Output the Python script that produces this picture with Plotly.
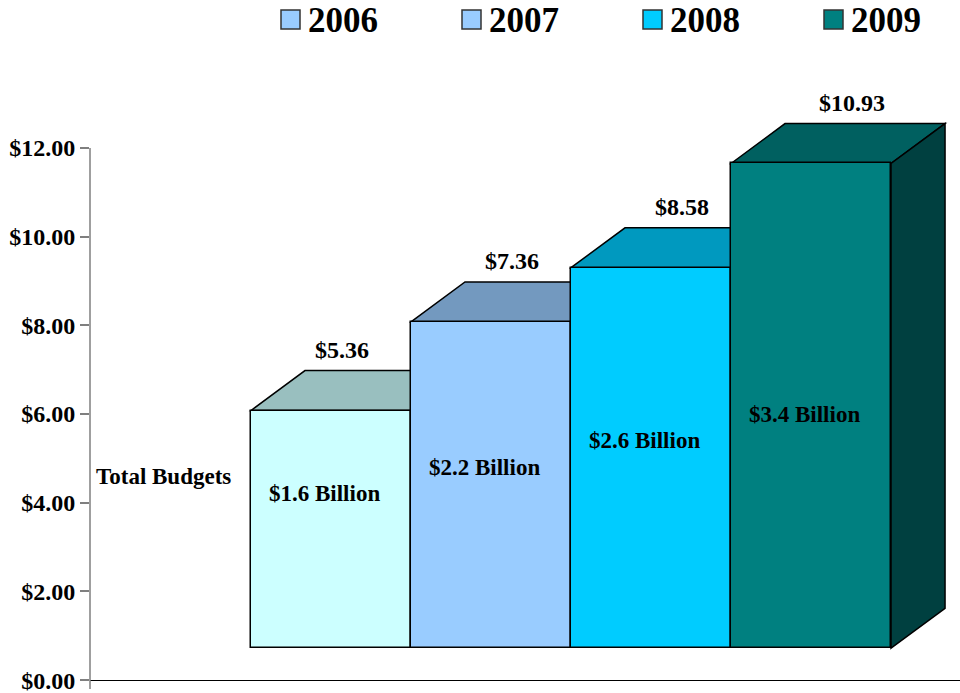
import plotly.graph_objects as go

# ---- data -------------------------------------------------------------
years = ["2006", "2007", "2008", "2009"]
total_budget = [5.36, 7.36, 8.58, 10.93]          # $ billions, value on top
inner_amount = [1.6, 2.2, 2.6, 3.4]                # $ billions, printed inside
y_ticks = [0, 2, 4, 6, 8, 10, 12]

front_colors = ["#CCFFFF", "#99CCFF", "#00CCFF", "#008080"]
top_colors = ["#99BFBF", "#7399BF", "#0099BF", "#006060"]
side_color = "#004040"
legend_colors = ["#99CCFF", "#99CCFF", "#00CCFF", "#008080"]

# ---- pseudo-3D geometry (axis units) ----------------------------------
W, H = 960, 693
ML, MR, MT, MB = 90, 0, 77, 0
X_RANGE = [-0.506, 4.931]
Y_RANGE = [-0.29, 13.6]
FLOOR = 0.72      # front faces start slightly above the zero line
DX, DY = 0.3375, 0.90   # depth offset of the back edges
BAR_W = 1.0

SERIF = "Liberation Serif, Times New Roman, serif"


def px_x(p):
    return (p - ML) / (W - ML - MR)


def px_y(p):
    return (H - MB - p) / (H - MT - MB)


fig = go.Figure()
shapes = []
annotations = []

for i, (yr, v) in enumerate(zip(years, total_budget)):
    xc = i + 1
    x0, x1 = xc - BAR_W / 2, xc + BAR_W / 2
    top = v + FLOOR

    # front face
    fig.add_trace(go.Bar(
        x=[xc], y=[v], base=[FLOOR], width=[BAR_W], name=yr,
        marker=dict(color=front_colors[i], line=dict(color="#000000", width=1.5)),
        hoverinfo="skip", showlegend=False,
    ))

    # top face
    shapes.append(dict(
        type="path", xref="x", yref="y", layer="below",
        path=f"M{x0},{top} L{x0 + DX},{top + DY} L{x1 + DX},{top + DY} L{x1},{top} Z",
        fillcolor=top_colors[i], line=dict(color="#000000", width=1.5),
    ))

    # value above the bar
    annotations.append(dict(
        x=xc + 0.07 + 0.0625 * i, y=top + DY, xref="x", yref="y",
        text=f"<b>${v:.2f}</b>", showarrow=False, yanchor="middle", yshift=21,
        font=dict(family=SERIF, size=24, color="#000000"),
    ))

    # amount printed on the front face
    annotations.append(dict(
        x=xc - 0.04, y=4.2 + 0.6 * i, xref="x", yref="y",
        text=f"<b>${inner_amount[i]:.1f} Billion</b>", showarrow=False,
        font=dict(family=SERIF, size=23, color="#000000"),
    ))

# right side face of the last (tallest) bar
last_x1 = len(years) + BAR_W / 2
last_top = total_budget[-1] + FLOOR
shapes.append(dict(
    type="path", xref="x", yref="y", layer="below",
    path=(f"M{last_x1},{FLOOR} L{last_x1 + DX},{FLOOR + DY} "
          f"L{last_x1 + DX},{last_top + DY} L{last_x1},{last_top} Z"),
    fillcolor=side_color, line=dict(color="#000000", width=1.5),
))

# vertical value axis line, drawn from just below zero up to the top tick
shapes.append(dict(
    type="line", xref="paper", yref="y", x0=0, x1=0, y0=-0.2, y1=max(y_ticks),
    line=dict(color="#7F7F7F", width=1.5), layer="above",
))

annotations.append(dict(
    x=-0.044, y=4.6, xref="x", yref="y", text="<b>Total Budgets</b>",
    showarrow=False, font=dict(family=SERIF, size=23, color="#000000"),
))

# legend along the top
for k, (yr, c) in enumerate(zip(years, legend_colors)):
    sx = 281 + 181 * k
    shapes.append(dict(
        type="rect", xref="paper", yref="paper",
        x0=px_x(sx), x1=px_x(sx + 19), y0=px_y(29), y1=px_y(10),
        fillcolor=c, line=dict(color="#333333", width=1.5),
    ))
    annotations.append(dict(
        x=px_x(sx + 25), y=px_y(20), xref="paper", yref="paper",
        xanchor="left", yanchor="middle", text=f"<b>{yr}</b>", showarrow=False,
        font=dict(family=SERIF, size=35, color="#000000"),
    ))

fig.update_layout(
    width=W, height=H,
    margin=dict(l=ML, r=MR, t=MT, b=MB),
    paper_bgcolor="#FFFFFF", plot_bgcolor="#FFFFFF",
    showlegend=False, bargap=0,
    shapes=shapes, annotations=annotations,
    xaxis=dict(range=X_RANGE, visible=False, fixedrange=True),
    yaxis=dict(
        range=Y_RANGE, tickvals=y_ticks,
        ticktext=[f"${t:.2f}" for t in y_ticks],
        ticks="outside", ticklen=9, tickwidth=1.5, tickcolor="#7F7F7F",
        tickfont=dict(family=SERIF, size=24, color="#000000", weight="bold"),
        ticklabeloverflow="allow",
        showgrid=False, showline=False,
        zeroline=True, zerolinecolor="#000000", zerolinewidth=1.2,
        fixedrange=True,
    ),
)

fig.write_html("out.html")
